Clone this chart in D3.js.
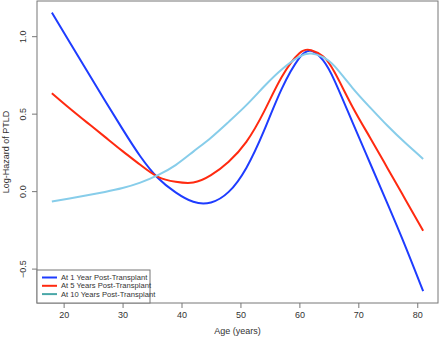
<!DOCTYPE html>
<html><head><meta charset="utf-8">
<script src="https://cdnjs.cloudflare.com/ajax/libs/d3/7.8.5/d3.min.js"></script>
<style>body{margin:0;background:#fff}svg{display:block}text{font-family:"Liberation Sans",Arial,sans-serif}</style>
</head><body><svg id="c" width="440" height="342"></svg>
<script>
const ages = [18,21,24,27,30,33,36,39,42,45,48,51,54,57,60,62,64,66,69,72,75,78,81];
const year1 = [1.152,0.962,0.773,0.585,0.4,0.225,0.085,-0.008,-0.069,-0.073,-0.005,0.15,0.39,0.66,0.86,0.905,0.845,0.71,0.445,0.18,-0.086,-0.358,-0.646];
const year5 = [0.632,0.535,0.442,0.35,0.258,0.17,0.092,0.06,0.055,0.103,0.19,0.318,0.513,0.736,0.89,0.909,0.87,0.765,0.545,0.345,0.145,-0.055,-0.255];
const year10 = [-0.067,-0.048,-0.027,-0.005,0.02,0.055,0.103,0.168,0.255,0.345,0.447,0.555,0.675,0.785,0.868,0.888,0.865,0.805,0.667,0.54,0.42,0.31,0.208];
const seriesNames = ["At 1 Year Post-Transplant","At 5 Years Post-Transplant","At 10 Years Post-Transplant"];
const xTicks = [20,30,40,50,60,70,80];
const yTicks = [-0.5,0.0,0.5,1.0];
const lineColors = ["#1e3cff","#ff2a10","#87cdea"];
const legendColors = ["#1e3cff","#ff2a10","#4aa7a8"];

const svg = d3.select("#c");
const L=37,R=438,T=1,B=303;
const x = d3.scaleLinear().domain([15.48,83.52]).range([L,R]);
const y = d3.scaleLinear().domain([-0.722,1.227]).range([B,T]);
const axisCol="#777", textCol="#333";

const line = d3.line().x((d,i)=>x(ages[i])).y(d=>y(d)).curve(d3.curveNatural);
[year1,year5,year10].forEach((s,k)=>{
  svg.append("path").attr("d",line(s)).attr("fill","none").attr("stroke",lineColors[k]).attr("stroke-width",2);
});

// box
svg.append("rect").attr("x",L).attr("y",T).attr("width",R-L).attr("height",B-T)
  .attr("fill","none").attr("stroke",axisCol).attr("stroke-width",1);

const xa = svg.append("g").attr("transform",`translate(0,${B})`)
  .call(d3.axisBottom(x).tickValues(xTicks).tickSize(5).tickPadding(4).tickFormat(d3.format("d")));
xa.select(".domain").remove();
xa.selectAll("line").attr("stroke",axisCol);
xa.selectAll("text").attr("fill",textCol).attr("font-size",9);

const ya = svg.append("g").attr("transform",`translate(${L},0)`)
  .call(d3.axisLeft(y).tickValues(yTicks).tickSize(5).tickFormat(d3.format(".1f")));
ya.select(".domain").remove();
ya.selectAll("line").attr("stroke",axisCol);
ya.selectAll("text").attr("fill",textCol).attr("font-size",9)
  .attr("text-anchor","middle").attr("dy",null).attr("x",null)
  .attr("transform",d=>`translate(-13,0) rotate(-90)`).attr("dominant-baseline","middle");
ya.selectAll(".tick text").each(function(){d3.select(this).attr("y",0);});

svg.append("text").attr("x",(L+R)/2).attr("y",334).attr("text-anchor","middle")
  .attr("font-size",9).attr("fill",textCol).text("Age (years)");
svg.append("text").attr("transform",`translate(9,${(T+B)/2}) rotate(-90)`).attr("text-anchor","middle")
  .attr("font-size",9).attr("fill",textCol).text("Log-Hazard of PTLD");

// legend
const lg = svg.append("g");
lg.append("rect").attr("x",L).attr("y",270).attr("width",113).attr("height",B-270)
  .attr("fill","#fff").attr("stroke",axisCol);
seriesNames.forEach((n,i)=>{
  const yy = 277.5+i*8.3;
  lg.append("line").attr("x1",42).attr("x2",57).attr("y1",yy).attr("y2",yy)
    .attr("stroke",legendColors[i]).attr("stroke-width",2);
  lg.append("text").attr("x",61).attr("y",yy).attr("dy","0.35em").attr("font-size",7.6)
    .attr("fill",textCol).text(n);
});
</script></body></html>
